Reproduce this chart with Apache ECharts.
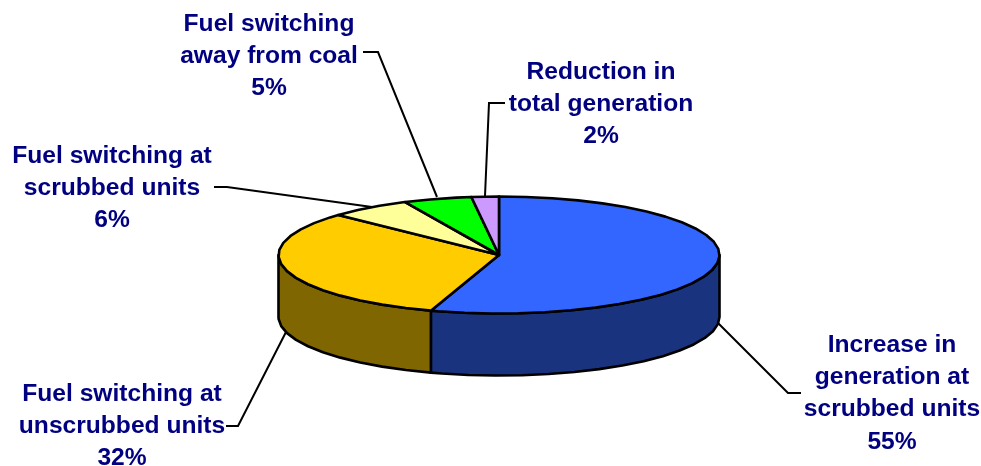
<!DOCTYPE html>
<html><head><meta charset="utf-8">
<style>html,body{margin:0;padding:0;background:#fff}#c{width:981px;height:466px}</style>
<script src="https://cdn.jsdelivr.net/npm/echarts@6/dist/echarts.min.js"></script>
</head><body><div id="c"></div>
<script>
const categories = [
  'Increase in\ngeneration at\nscrubbed units',
  'Fuel switching at\nunscrubbed units',
  'Fuel switching at\nscrubbed units',
  'Fuel switching\naway from coal',
  'Reduction in\ntotal generation'
];
const shares = [55, 32, 6, 5, 2];
const topColors = ['#3366FF', '#FFCC00', '#FFFF99', '#00FF00', '#CC99FF'];
const wallColors = ['#19337F', '#806600', '#808050', '#008000', '#665080'];

// Drawing layout (not data)
const PIE = {cx: 499, cy: 255, rx: 220.5, ry: 58.5, depth: 62, step: 7};
const LABELS = [[892, 345], [122, 394], [112, 156], [269, 24], [601, 72]];
const LEADERS = [
  [[718, 323], [788, 393], [801, 393]],
  [[286, 332], [238, 426], [226, 426]],
  [[214, 187], [227, 187], [372, 207]],
  [[363, 52], [378, 52], [437, 197]],
  [[505, 103], [489, 103], [485, 196]]
];
const LINE_H = 32.3;

const total = shares.reduce((a, b) => a + b, 0);
function pt(deg, dy) {
  const r = deg * Math.PI / 180;
  return [PIE.cx + PIE.rx * Math.sin(r), PIE.cy - PIE.ry * Math.cos(r) + (dy || 0)];
}
function arc(a0, a1, dy) {
  const out = [];
  for (let a = a0; a < a1; a += PIE.step) out.push(pt(a, dy));
  out.push(pt(a1, dy));
  return out;
}
function renderItem(params, api) {
  const i = params.dataIndex;
  const before = shares.slice(0, i).reduce((a, b) => a + b, 0);
  const a0 = before / total * 360, a1 = (before + api.value(0)) / total * 360;
  const kids = [];
  const stroke = {stroke: '#000', lineWidth: 2.6, lineJoin: 'round'};
  const w0 = Math.max(a0, 90), w1 = Math.min(a1, 270);
  if (w1 > w0) {
    const top = arc(w0, w1, 0), bottom = arc(w0, w1, PIE.depth).reverse();
    kids.push({type: 'polygon', z2: 1, shape: {points: top.concat(bottom)},
      style: Object.assign({fill: wallColors[i]}, stroke)});
  }
  kids.push({type: 'polygon', z2: 2, shape: {points: [[PIE.cx, PIE.cy]].concat(arc(a0, a1, 0))},
    style: Object.assign({fill: topColors[i]}, stroke)});
  kids.push({type: 'polyline', z2: 3, shape: {points: LEADERS[i]},
    style: {fill: 'none', stroke: '#000', lineWidth: 2}});
  const lines = categories[i].split('\n').concat([api.value(0) + '%']);
  lines.forEach((t, k) => kids.push({type: 'text', z2: 4,
    x: LABELS[i][0], y: LABELS[i][1] + k * LINE_H,
    style: {text: t, fill: '#000080', align: 'center', verticalAlign: 'middle',
      font: 'bold 24.6px "Liberation Sans", Arial, sans-serif'}}));
  return {type: 'group', children: kids};
}
const chart = echarts.init(document.getElementById('c'), null, {renderer: 'canvas'});
chart.setOption({
  animation: false,
  backgroundColor: '#fff',
  series: [{
    type: 'custom', coordinateSystem: 'none', renderItem,
    data: shares.map((v, i) => ({name: categories[i], value: [v]}))
  }]
});
</script></body></html>
